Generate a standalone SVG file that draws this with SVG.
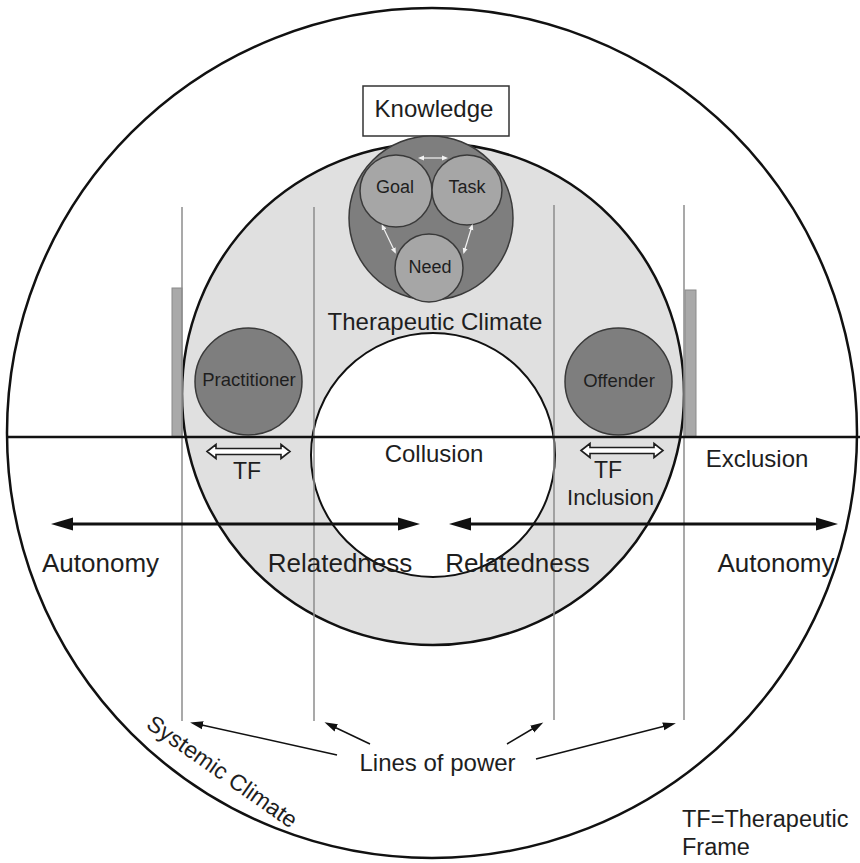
<svg xmlns="http://www.w3.org/2000/svg" width="860" height="863" viewBox="0 0 860 863">
  <defs>
    <style>
      text { font-family: "Liberation Sans", Arial, sans-serif; fill: #1e1e1e; }
      .big { font-size: 26px; }
      .lab { font-size: 24px; }
      .node { font-size: 18px; text-anchor: middle; }
      .mid { text-anchor: middle; }
      .power { stroke: #8c8c8c; stroke-width: 1.5; fill: none; }
      .bar { fill: #a9a9a9; stroke: #8a8a8a; stroke-width: 1; }
      .dark { fill: #7e7e7e; stroke: #3a3a3a; stroke-width: 1.5; }
      .light { fill: #a6a6a6; stroke: #3a3a3a; stroke-width: 1.5; }
      .tf { fill: #ffffff; stroke: #1e1e1e; stroke-width: 1.6; stroke-linejoin: miter; }
      .axis { stroke: #111; stroke-width: 3; fill: none; marker-start: url(#headBig); marker-end: url(#headBig); }
      .pointer { stroke: #111; stroke-width: 1.5; fill: none; marker-end: url(#headSmall); }
      .cycle { stroke: #f2f2f2; stroke-width: 1.2; fill: none; marker-start: url(#headTiny); marker-end: url(#headTiny); }
    </style>
    <marker id="headBig" markerUnits="userSpaceOnUse" markerWidth="24" markerHeight="14" refX="12" refY="7" orient="auto-start-reverse">
      <path d="M0,0.5 L22,7 L0,13.5 z" fill="#111"/>
    </marker>
    <marker id="headSmall" markerUnits="userSpaceOnUse" markerWidth="14" markerHeight="10" refX="8" refY="5" orient="auto">
      <path d="M0,1 L13,5 L0,9 z" fill="#111"/>
    </marker>
    <marker id="headTiny" markerUnits="userSpaceOnUse" markerWidth="7" markerHeight="6" refX="4" refY="3" orient="auto-start-reverse">
      <path d="M0,0.5 L6,3 L0,5.5 z" fill="#f2f2f2"/>
    </marker>
  </defs>

  <rect width="860" height="863" fill="#ffffff"/>

  <!-- systemic climate: the outer circle -->
  <g id="systemic-climate">
    <circle cx="432" cy="433" r="425" fill="#ffffff" stroke="#111" stroke-width="2.5"/>
  </g>

  <!-- therapeutic climate ring with the white core -->
  <g id="therapeutic-climate">
    <circle cx="433" cy="394" r="251" fill="#e0e0e0" stroke="#111" stroke-width="2.5"/>
    <circle cx="433" cy="455" r="122" fill="#ffffff" stroke="#111" stroke-width="2"/>
  </g>

  <!-- frame bars beside the outer lines of power -->
  <g id="bars">
    <rect class="bar" x="172" y="288" width="10" height="149"/>
    <rect class="bar" x="685" y="290" width="11" height="147"/>
  </g>

  <!-- vertical lines of power -->
  <g id="lines-of-power">
    <line class="power" x1="182" y1="207" x2="182" y2="721"/>
    <line class="power" x1="314" y1="207" x2="314" y2="721"/>
    <line class="power" x1="554" y1="205" x2="554" y2="720"/>
    <line class="power" x1="684" y1="205" x2="684" y2="720"/>
  </g>

  <!-- horizon dividing the two halves -->
  <line id="horizon" x1="8" y1="437" x2="860" y2="437" stroke="#111" stroke-width="2.5"/>

  <g id="knowledge">
    <rect x="363" y="86" width="146" height="50" fill="#ffffff" stroke="#333" stroke-width="1.5"/>
    <text class="lab mid" x="434" y="117">Knowledge</text>
  </g>

  <g id="core">
    <circle class="dark" cx="431" cy="218" r="82"/>
  </g>
  <g id="goal">
    <circle class="light" cx="396" cy="191" r="36"/>
    <text class="node" x="395" y="193">Goal</text>
  </g>
  <g id="task">
    <circle class="light" cx="467" cy="190" r="35"/>
    <text class="node" x="467" y="193">Task</text>
  </g>
  <g id="need">
    <circle class="light" cx="429" cy="268" r="34"/>
    <text class="node" x="430" y="273">Need</text>
  </g>

  <text class="lab mid" x="435" y="330">Therapeutic Climate</text>

  <g id="practitioner">
    <circle class="dark" cx="248.5" cy="381.5" r="53.5"/>
    <text class="node" x="249" y="386" style="font-size:18.5px">Practitioner</text>
  </g>
  <g id="offender">
    <circle class="dark" cx="618.5" cy="381.5" r="53.5"/>
    <text class="node" x="619" y="387" style="font-size:18.5px">Offender</text>
  </g>

  <!-- connectors -->
  <g id="connectors">
    <line class="cycle" x1="420" y1="158" x2="446" y2="158"/>
    <line class="cycle" x1="382.5" y1="226" x2="395" y2="252"/>
    <line class="cycle" x1="472" y1="226" x2="464" y2="252"/>

    <polygon class="tf" points="207,451.5 216,444.5 216,448.5 281,448.5 281,444.5 290,451.5 281,458.5 281,454.5 216,454.5 216,458.5"/>
    <polygon class="tf" points="581,450.5 590,443.5 590,447.5 654,447.5 654,443.5 663,450.5 654,457.5 654,453.5 590,453.5 590,457.5"/>

    <line class="axis" x1="61" y1="524" x2="410" y2="524"/>
    <line class="axis" x1="459" y1="524" x2="828" y2="524"/>

    <line class="pointer" x1="337" y1="755" x2="195" y2="723.5"/>
    <line class="pointer" x1="370" y1="744" x2="329" y2="724.5"/>
    <line class="pointer" x1="507" y1="744" x2="539" y2="725"/>
    <line class="pointer" x1="536" y1="759" x2="671" y2="724.5"/>
  </g>

  <!-- labels -->
  <g id="labels">
    <text class="lab mid" x="434" y="462">Collusion</text>
    <text class="lab mid" x="757" y="467">Exclusion</text>
    <text class="mid" x="247" y="479" style="font-size:23px">TF</text>
    <text class="mid" x="608" y="478" style="font-size:23px">TF</text>
    <text class="mid" x="610.5" y="505" style="font-size:22px">Inclusion</text>
    <text class="big" x="42" y="572">Autonomy</text>
    <text class="big mid" x="340" y="572">Relatedness</text>
    <text class="big mid" x="517.5" y="572">Relatedness</text>
    <text class="big mid" x="776" y="572">Autonomy</text>
    <text class="lab mid" x="437.5" y="771">Lines of power</text>
    <text style="font-size:23px" transform="translate(145,727) rotate(35)">Systemic Climate</text>
    <text style="font-size:23.5px" x="682" y="827">TF=Therapeutic</text>
    <text style="font-size:23.5px" x="682" y="855">Frame</text>
  </g>
</svg>
